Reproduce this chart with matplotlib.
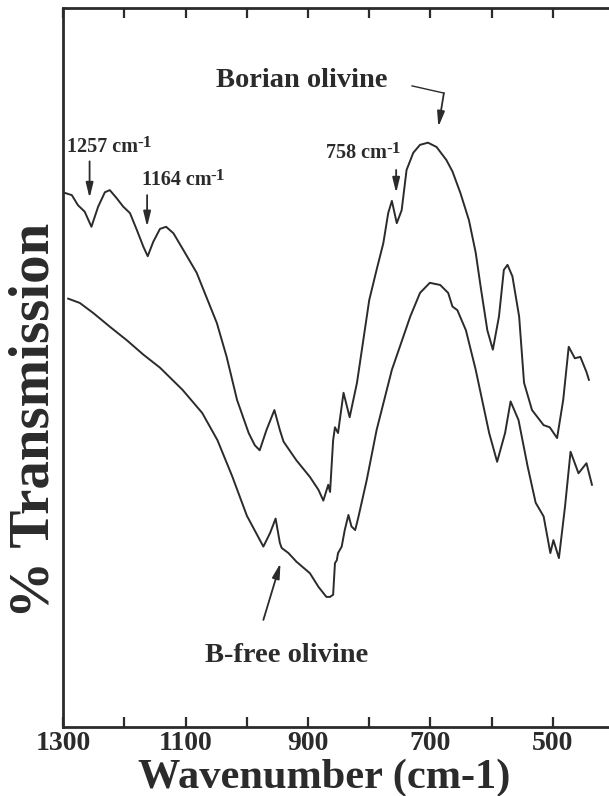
import matplotlib
matplotlib.use("Agg")
import matplotlib.pyplot as plt
from matplotlib.ticker import MultipleLocator

plt.rcParams['font.family'] = ['Liberation Serif', 'DejaVu Serif']
plt.rcParams['font.weight'] = 'bold'

ink = '#2b2b2b'

# borian olivine spectrum (upper trace), wavenumber vs transmission (arb.)
borian_wn = [1297, 1286, 1276, 1265, 1254, 1243, 1232, 1224, 1213, 1202,
             1191, 1180, 1169, 1162, 1153, 1142, 1132, 1120, 1104, 1082,
             1066, 1049, 1033, 1016, 997, 987, 979, 968, 955, 946,
             940, 919, 897, 883, 875, 867, 864, 859, 856, 851,
             842, 832, 820, 800, 788, 777, 769, 763, 755, 747,
             739, 728, 717, 704, 690, 674, 664, 651, 637, 626,
             618, 607, 598, 588, 580, 574, 566, 555, 547, 534,
             515, 505, 493, 483, 474, 464, 455, 445, 441]
borian_t = [74.3, 74.0, 72.6, 71.7, 69.6, 72.4, 74.4, 74.7, 73.6, 72.4,
            71.5, 69.2, 66.8, 65.5, 67.5, 69.3, 69.6, 68.7, 66.4, 63.2,
            59.8, 56.2, 51.5, 45.5, 40.9, 39.2, 38.5, 41.3, 44.1, 41.3,
            39.7, 37.1, 34.8, 33.0, 31.5, 33.7, 32.7, 39.9, 41.7, 40.9,
            46.5, 43.1, 47.9, 59.4, 63.6, 67.3, 71.5, 73.2, 70.1, 71.9,
            77.5, 79.9, 81.0, 81.3, 80.7, 78.9, 77.3, 74.3, 70.5, 66.0,
            61.3, 55.2, 52.5, 57.1, 63.6, 64.3, 62.7, 57.1, 47.9, 44.1,
            42.0, 41.7, 40.2, 45.5, 52.9, 51.3, 51.5, 49.4, 48.3]

# B-free olivine spectrum (lower trace)
bfree_wn = [1292, 1273, 1251, 1224, 1196, 1169, 1142, 1105, 1073, 1048,
            1024, 1000, 973, 962, 953, 946, 943, 932, 919, 897,
            883, 870, 864, 859, 856, 853, 851, 845, 840, 834,
            829, 823, 818, 804, 788, 763, 750, 733, 717, 701,
            684, 671, 664, 656, 642, 626, 604, 591, 578, 569,
            556, 541, 528, 515, 504, 499, 490, 480, 471, 458,
            445, 436]
bfree_t = [59.6, 59.0, 57.6, 55.7, 53.8, 51.8, 50.0, 46.9, 43.7, 39.9,
           34.9, 29.4, 25.1, 27.0, 29.0, 25.6, 24.9, 24.2, 23.0, 21.4,
           19.5, 18.1, 18.1, 18.4, 22.8, 23.2, 24.2, 25.1, 27.4, 29.5,
           27.9, 27.4, 29.1, 34.4, 41.3, 49.7, 52.9, 57.1, 60.4, 61.8,
           61.5, 60.4, 58.5, 58.0, 55.2, 49.7, 40.9, 36.9, 40.9, 45.3,
           42.7, 36.2, 31.2, 29.3, 24.2, 26.0, 23.5, 30.7, 38.3, 35.3,
           36.7, 33.7]

labelled_ticks = [1300, 1100, 900, 700, 500]

# band labels: text, text anchor, arrow top, arrow tip
bands = [('1257 cm', (1294, 80.0), (1257, 78.7), (1257, 73.6)),
         ('1164 cm', (1172, 75.4), (1163, 74.0), (1163, 69.6)),
         ('758 cm', (870, 79.2), (756, 77.5), (756, 74.3))]

fig = plt.figure(figsize=(6.09, 7.96), dpi=100)
ax = fig.add_axes([0.1039, 0.0867, 0.9043, 0.9029])

ax.plot(borian_wn, borian_t, color=ink, lw=1.4)
ax.plot(bfree_wn, bfree_t, color=ink, lw=1.4)

ax.set_xlim(1300, 400)
ax.set_ylim(0, 100)
ax.set_xticks(labelled_ticks)
ax.xaxis.set_minor_locator(MultipleLocator(100))
ax.set_yticks([])
ax.tick_params(axis='x', which='both', direction='in', top=True, length=7,
               width=1.6, color=ink, labelsize=20, labelcolor=ink, pad=3)
for lab in ax.get_xticklabels():
    lab.set_fontweight('bold')
for side in ['left', 'bottom', 'top']:
    ax.spines[side].set_linewidth(2.0)
    ax.spines[side].set_color(ink)
ax.spines['right'].set_visible(False)

ax.set_xlabel('Wavenumber (cm-1)', fontsize=30.5, fontweight='bold',
              color=ink, va='center')
ax.xaxis.set_label_coords(0.473, -0.071)
ax.set_ylabel('% Transmission', fontsize=41, fontweight='bold',
              color=ink, va='center')
ax.yaxis.set_label_coords(-0.053, 0.426)

arrow = dict(arrowstyle='-|>,head_length=0.9,head_width=0.22', color=ink,
             lw=1.3, shrinkA=0, shrinkB=0)

for name, pos, top, tip in bands:
    t = ax.text(pos[0], pos[1], name, fontsize=14.5, fontweight='bold',
                color=ink, ha='left', va='baseline')
    ax.annotate('-1', xy=(1, 1), xycoords=t, xytext=(-0.5, 1.5),
                textcoords='offset points', fontsize=12.5, fontweight='bold',
                color=ink, ha='left', va='top')
    ax.annotate('', xy=tip, xytext=top, arrowprops=arrow)

# curve names
ax.text(910, 89.9, 'Borian olivine', fontsize=20.5, fontweight='bold',
        color=ink, ha='center', va='center')
ax.plot([730, 678], [89.2, 88.2], color=ink, lw=1.0)
ax.annotate('', xy=(687, 83.5), xytext=(678, 88.2), arrowprops=arrow)

ax.text(935, 10.0, 'B-free olivine', fontsize=20.5, fontweight='bold',
        color=ink, ha='center', va='center')
ax.annotate('', xy=(945, 22.8), xytext=(973, 14.9), arrowprops=arrow)

fig.savefig('out.png', dpi=100)
